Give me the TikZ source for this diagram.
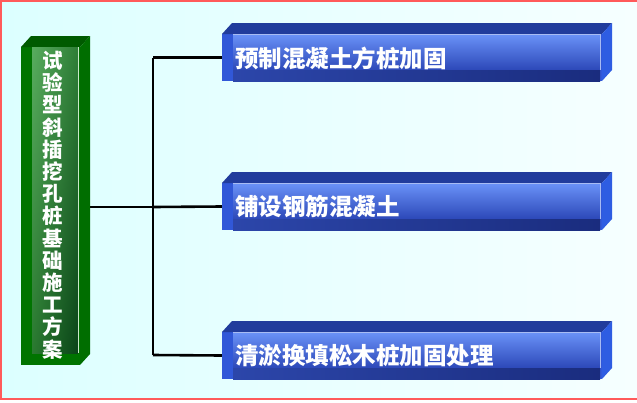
\documentclass[tikz,border=0pt]{standalone}
\usepackage{fontspec}
\usetikzlibrary{shadings}
\newfontfamily\cjk{Noto Sans CJK SC}
\definecolor{bgL}{HTML}{DCFFFF}
\definecolor{bgR}{HTML}{F6FFFF}
\definecolor{frameRed}{HTML}{FF5A5A}
\definecolor{gfront}{HTML}{007400}
\definecolor{gtop}{HTML}{005A00}
\definecolor{gside}{HTML}{006E00}
\definecolor{gUL}{HTML}{58AC5E}
\definecolor{gUR}{HTML}{2E7E36}
\definecolor{gLL}{HTML}{2A7A30}
\definecolor{gLR}{HTML}{0A4418}
\definecolor{gline}{HTML}{C8E8C8}
\definecolor{bfront}{HTML}{3158D8}
\definecolor{btop}{HTML}{213C9C}
\definecolor{bside}{HTML}{2E5DE2}
\definecolor{bpTop}{HTML}{6A92F8}
\definecolor{bpBot}{HTML}{2C48B8}
\definecolor{bsL}{HTML}{2C46AA}
\definecolor{bsR}{HTML}{1A2C7E}
\definecolor{bline}{HTML}{A8BCF4}
\setlength{\lineskiplimit}{-30pt}
\setlength{\lineskip}{0pt}
\begin{document}
\begin{tikzpicture}[x=1pt,y=-1pt,
  conn/.style={line width=2.6pt, black},
  boxnode/.style={minimum width=380pt, minimum height=47pt, inner sep=0pt, draw=none},
  blbl/.style={font=\cjk\bfseries\fontsize{23.5}{26}\selectfont, text=white, inner sep=0pt, anchor=west},
  glbl/.style={font=\cjk\bfseries\fontsize{20.5}{22.2}\selectfont, text=white, inner sep=0pt, align=center}]
\useasboundingbox (0,0) rectangle (637,402);
\fill[white] (0,0) rectangle (637,402);
\shade[left color=bgL, right color=bgR] (1,1) rectangle (637,399);
\draw[frameRed, line width=1.3pt] (637,1) -- (1,1) -- (1,399) -- (637,399);

% named anchors
\node[minimum width=59pt, minimum height=318pt, inner sep=0pt, draw=none] (g) at (50.5,206) {};
\coordinate (gR) at (85,207);
\coordinate (j1) at (153,57.5);
\coordinate (j2) at (153,207);
\coordinate (j3) at (153,355);
\node[boxnode] (b1) at (412,57.5) {};
\node[boxnode] (b2) at (412,206.5) {};
\node[boxnode] (b3) at (412,355.5) {};

% connectors
\draw[conn] (gR) -- (j2);
\draw[conn] (j1) -- (j3);
\draw[conn] (j1) -- (b1.west);
\draw[conn] (j2) -- (b2.west);
\draw[conn] (j3) -- (b3.west);

% green box
\fill[gfront] (21,47) rectangle (80,365);
\fill[gtop] (21,47) -- (31,36) -- (90,36) -- (80,47) -- cycle;
\fill[gside] (80,47) -- (90,36) -- (90,354) -- (80,365) -- cycle;
\shade[upper left=gUL, upper right=gUR, lower left=gLL, lower right=gLR] (32,47) rectangle (78,353);
\draw[gline, line width=0.8pt] (78,47) -- (78,353);
\node[glbl] (gt) at (53,205) {试\\验\\型\\斜\\插\\挖\\孔\\桩\\基\\础\\施\\工\\方\\案};

% blue boxes
\foreach \n/\T/\txt in {b1/34/预制混凝土方桩加固, b2/183/铺设钢筋混凝土, b3/332/清淤换填松木桩加固处理}{
  \fill[bfront] (222,\T) rectangle (602,\T+47);
  \fill[btop] (222,\T) -- (232,\T-11) -- (612,\T-11) -- (602,\T) -- cycle;
  \fill[bside] (602,\T) -- (612,\T-11) -- (612,\T+36) -- (602,\T+47) -- cycle;
  \shade[top color=bpTop, bottom color=bpBot] (233,\T) rectangle (600,\T+36);
  \shade[left color=bsL, right color=bsR] (233,\T+36) rectangle (600,\T+47);
  \draw[bline, line width=0.8pt] (233,\T+0.4) -- (600,\T+0.4) -- (600,\T+36);
  \node[blbl] (\n t) at (235,\T+24) {\txt};
}
\end{tikzpicture}
\end{document}
